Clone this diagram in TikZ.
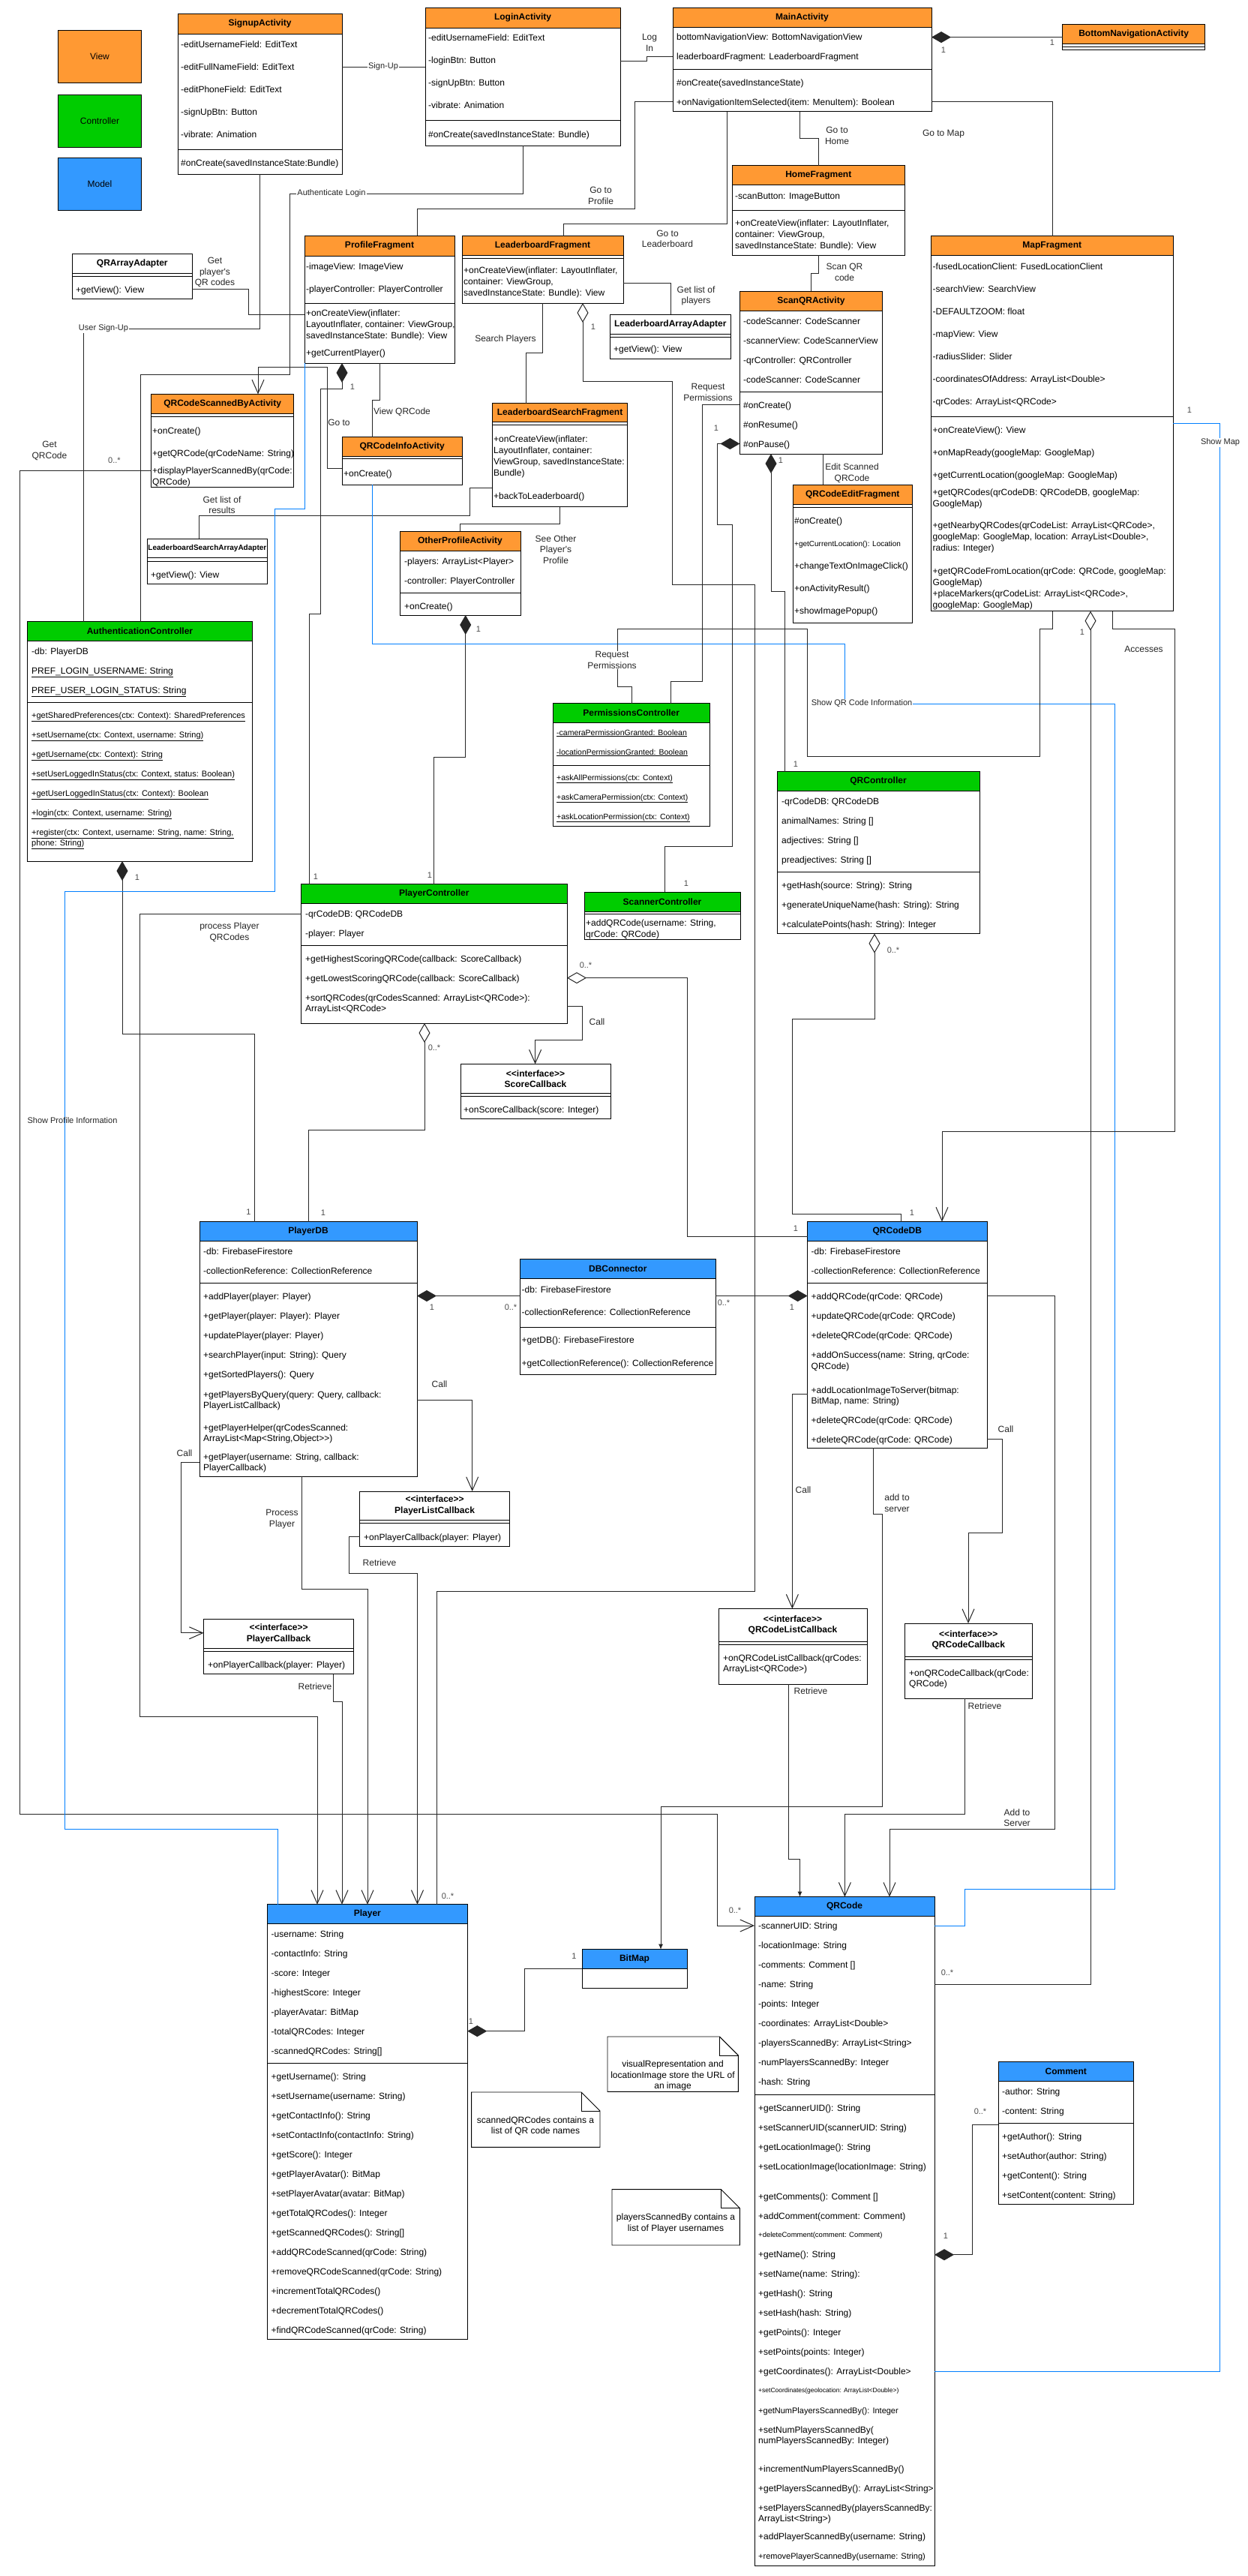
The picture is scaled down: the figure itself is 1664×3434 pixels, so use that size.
\documentclass[tikz,border=0pt]{standalone}
\usepackage{fontspec}
\newfontfamily\diagfont{Liberation Sans}
\usetikzlibrary{arrows.meta,positioning}

\definecolor{viewc}{RGB}{255,153,51}
\definecolor{ctrlc}{RGB}{0,204,0}
\definecolor{modelc}{RGB}{51,153,255}
\definecolor{linkc}{RGB}{0,127,255}

\newcommand{\rsep}{\\[12pt]}
\newcommand{\rlong}{\\[16pt]}
\newcommand{\rwrap}{\\[1pt]}

\begin{document}
\begin{tikzpicture}[x=1pt, y=-1pt, execute at begin picture=\diagfont,
        hd/.style={draw=black, line width=0.9pt, anchor=north west, minimum height=#1, inner sep=0pt, outer sep=0pt, align=center, font=\bfseries\fontsize{12}{14.5}\selectfont},
        hd/.default=26,
        bd/.style={draw=black, line width=0.9pt, fill=white, minimum height=#1, inner sep=0pt, outer sep=0pt},
        dv/.style={draw=black, line width=0.9pt},
        tx/.style={anchor=north west, inner sep=0pt, align=left, font=\fontsize{12}{14}\selectfont},
        legbox/.style={draw=black, line width=1pt, anchor=north west, minimum width=111, minimum height=70, inner sep=0pt, font=\fontsize{12}{14}\selectfont},
        conn/.style={draw=black!85, line width=1pt},
        infolink/.style={draw=linkc, line width=1pt},
        comp/.style={arrows={{Diamond[length=26pt,width=15pt]}-}},
        aggr/.style={arrows={{Diamond[length=26pt,width=15pt,fill=white]}-}},
        opentip/.style={arrows={-{Straight Barb[length=18pt,width=16pt]}}},
        filltip/.style={arrows={-{Latex[length=7pt,width=6pt]}}},
        lbl/.style={font=\fontsize{12}{14.5}\selectfont, align=center, inner sep=1pt, text=black!85},
        lbs/.style={lbl, font=\fontsize{11}{13}\selectfont},
        mult/.style={font=\fontsize{11}{13}\selectfont, inner sep=0pt, text=black!70},
        noteln/.style={draw=black, line width=0.9pt},
        notetx/.style={align=center, inner sep=0pt, font=\fontsize{12}{14.4}\selectfont}]

    \useasboundingbox (0,0) rectangle (1664,3434);
    \fill[white] (0,0) rectangle (1664,3434);

    % legend
    \node[legbox, fill=viewc] (leg-view) at (77,40) {View};
    \node[legbox, fill=ctrlc] (leg-ctrl) at (77,126) {Controller};
    \node[legbox, fill=modelc] (leg-model) at (77,210) {Model};

    % views
    \node[hd=27, fill=viewc, minimum width=219] (signup) at (237,18) {SignupActivity};
    \node[bd=187, minimum width=219, below=0pt of signup] (signup-b) {};
    \draw[dv] (signup-b.west |- 0,199) -- (signup-b.east |- 0,199);
    \node[tx] (signup-at) at (241,53) {\strut -editUsernameField: EditText\rlong -editFullNameField: EditText\rlong -editPhoneField: EditText\rlong -signUpBtn: Button\rlong -vibrate: Animation};
    \node[tx] (signup-mt) at (241,211) {\strut\#onCreate(savedInstanceState:Bundle)};

    \node[hd=27, fill=viewc, minimum width=260] (login) at (567,10) {LoginActivity};
    \node[bd=157, minimum width=260, below=0pt of login] (login-b) {};
    \draw[dv] (login-b.west |- 0,160) -- (login-b.east |- 0,160);
    \node[tx] (login-at) at (571,44.5) {\strut -editUsernameField: EditText\rlong -loginBtn: Button\rlong -signUpBtn: Button\rlong -vibrate: Animation};
    \node[tx] (login-mt) at (571,173.5) {\strut\#onCreate(savedInstanceState: Bundle)};

    \node[hd=26.5, fill=viewc, minimum width=345] (main) at (897,10) {MainActivity};
    \node[bd=112, minimum width=345, below=0pt of main] (main-b) {};
    \draw[dv] (main-b.west |- 0,92.4) -- (main-b.east |- 0,92.4);
    \node[tx] (main-at) at (902,44) {\strut bottomNavigationView: BottomNavigationView\rsep leaderboardFragment: LeaderboardFragment};
    \node[tx] (main-mt) at (902,104) {\strut\#onCreate(savedInstanceState)\rsep +onNavigationItemSelected(item: MenuItem): Boolean};

    \node[hd, fill=viewc, minimum width=190] (bnav) at (1416.6,32.6) {BottomNavigationActivity};
    \node[bd=7.4, minimum width=190, below=0pt of bnav] (bnav-b) {};
    \draw[dv] (bnav-b.west |- 0,62.3) -- (bnav-b.east |- 0,62.3);

    \node[hd, fill=viewc, minimum width=230] (home) at (976.3,220.5) {HomeFragment};
    \node[bd=93.5, minimum width=230, below=0pt of home] (home-b) {};
    \draw[dv] (home-b.west |- 0,280) -- (home-b.east |- 0,280);
    \node[tx] (home-at) at (980,255) {\strut -scanButton: ImageButton};
    \node[tx] (home-mt) at (980,291.5) {\strut +onCreateView(inflater: LayoutInflater,\rwrap container: ViewGroup,\rwrap savedInstanceState: Bundle): View};

    \node[hd=26.3, fill=viewc, minimum width=190] (scan) at (986.4,388.4) {ScanQRActivity};
    \node[bd=190.3, minimum width=190, below=0pt of scan] (scan-b) {};
    \draw[dv] (scan-b.west |- 0,522.3) -- (scan-b.east |- 0,522.3);
    \node[tx] (scan-at) at (991,422.2) {\strut -codeScanner: CodeScanner\rsep -scannerView: CodeScannerView\rsep -qrController: QRController\rsep -codeScanner: CodeScanner};
    \node[tx] (scan-mt) at (991,534.2) {\strut\#onCreate()\rsep\#onResume()\rsep\#onPause()};

    \node[hd=26.4, fill=viewc, minimum width=159.6] (edit) at (1057,646.4) {QRCodeEditFragment};
    \node[bd=157.6, minimum width=159.6, below=0pt of edit] (edit-b) {};
    \draw[dv] (edit-b.west |- 0,676.8) -- (edit-b.east |- 0,676.8);
    \node[tx] (edit-mt) at (1059,688.5) {\strut\#onCreate()\rlong{\fontsize{10}{14}\selectfont +getCurrentLocation(): Location}\rlong +changeTextOnImageClick()\rlong +onActivityResult()\rlong +showImagePopup()};

    \node[hd, fill=viewc, minimum width=322.5] (map) at (1241.5,314.7) {MapFragment};
    \node[bd=474, minimum width=322.5, below=0pt of map] (map-b) {};
    \draw[dv] (map-b.west |- 0,555) -- (map-b.east |- 0,555);
    \node[tx] (map-at) at (1243.5,349.5) {\strut -fusedLocationClient: FusedLocationClient\rlong -searchView: SearchView\rlong -DEFAULTZOOM: float\rlong -mapView: View\rlong -radiusSlider: Slider\rlong -coordinatesOfAddress: ArrayList<Double>\rlong -qrCodes: ArrayList<QRCode>};
    \node[tx] (map-mt) at (1243.5,567.3) {\strut +onCreateView(): View\rlong +onMapReady(googleMap: GoogleMap)\rlong +getCurrentLocation(googleMap: GoogleMap)\\[9pt] +getQRCodes(qrCodeDB: QRCodeDB, googleMap:\rwrap GoogleMap)\\[15pt] +getNearbyQRCodes(qrCodeList: ArrayList<QRCode>,\rwrap googleMap: GoogleMap, location: ArrayList<Double>,\rwrap radius: Integer)\\[17pt] +getQRCodeFromLocation(qrCode: QRCode, googleMap:\rwrap GoogleMap)\rwrap +placeMarkers(qrCodeList: ArrayList<QRCode>,\rwrap googleMap: GoogleMap)};

    \node[hd=27, fill=viewc, minimum width=200] (profile) at (406,314) {ProfileFragment};
    \node[bd=143, minimum width=200, below=0pt of profile] (profile-b) {};
    \draw[dv] (profile-b.west |- 0,404) -- (profile-b.east |- 0,404);
    \node[tx] (profile-at) at (408,349.5) {\strut -imageView: ImageView\rlong -playerController: PlayerController};
    \node[tx] (profile-mt) at (408,411) {\strut +onCreateView(inflater:\rwrap LayoutInflater, container: ViewGroup,\rwrap savedInstanceState: Bundle): View\\[9.5pt] +getCurrentPlayer()};

    \node[hd, fill=viewc, minimum width=215] (lb) at (616,314.5) {LeaderboardFragment};
    \node[bd=63.5, minimum width=215, below=0pt of lb] (lb-b) {};
    \draw[dv] (lb-b.west |- 0,344.5) -- (lb-b.east |- 0,344.5);
    \node[tx] (lb-mt) at (618,354.5) {\strut +onCreateView(inflater: LayoutInflater,\rwrap container: ViewGroup,\rwrap savedInstanceState: Bundle): View};

    \node[hd, fill=white, minimum width=160.4] (lbadapt) at (813.6,419) {LeaderboardArrayAdapter};
    \node[bd=33, minimum width=160.4, below=0pt of lbadapt] (lbadapt-b) {};
    \draw[dv] (lbadapt-b.west |- 0,449) -- (lbadapt-b.east |- 0,449);
    \node[tx] (lbadapt-mt) at (818,459.5) {\strut +getView(): View};

    \node[hd=26.3, fill=white, minimum width=159.4] (qrarr) at (96.6,338.4) {QRArrayAdapter};
    \node[bd=33.3, minimum width=159.4, below=0pt of qrarr] (qrarr-b) {};
    \draw[dv] (qrarr-b.west |- 0,368.8) -- (qrarr-b.east |- 0,368.8);
    \node[tx] (qrarr-mt) at (101,380.2) {\strut +getView(): View};

    \node[hd=25.6, fill=viewc, minimum width=190] (scanned) at (201.6,525.4) {QRCodeScannedByActivity};
    \node[bd=98.6, minimum width=190, below=0pt of scanned] (scanned-b) {};
    \draw[dv] (scanned-b.west |- 0,555) -- (scanned-b.east |- 0,555);
    \node[tx] (scanned-mt) at (203,568.2) {\strut +onCreate()\rlong +getQRCode(qrCodeName: String)\\[9.5pt] +displayPlayerScannedBy(qrCode:\rwrap QRCode)};

    \node[hd=25.4, fill=viewc, minimum width=160.4] (info) at (456,582.6) {QRCodeInfoActivity};
    \node[bd=38, minimum width=160.4, below=0pt of info] (info-b) {};
    \draw[dv] (info-b.west |- 0,611.6) -- (info-b.east |- 0,611.6);
    \node[tx] (info-mt) at (458,625.3) {\strut +onCreate()};

    \node[hd=24.8, fill=viewc, minimum width=180.4] (lbs) at (656.4,537.6) {LeaderboardSearchFragment};
    \node[bd=113.4, minimum width=180.4, below=0pt of lbs] (lbs-b) {};
    \draw[dv] (lbs-b.west |- 0,566.4) -- (lbs-b.east |- 0,566.4);
    \node[tx] (lbs-mt) at (658,579.5) {\strut +onCreateView(inflater:\rwrap LayoutInflater, container:\rwrap ViewGroup, savedInstanceState:\rwrap Bundle)\\[16.5pt] +backToLeaderboard()};

    \node[hd=25.5, fill=white, minimum width=160.2, font=\bfseries\fontsize{10}{12}\selectfont] (lbsadapt) at (196.3,718.3) {LeaderboardSearchArrayAdapter};
    \node[bd=34.8, minimum width=160.2, below=0pt of lbsadapt] (lbsadapt-b) {};
    \draw[dv] (lbsadapt-b.west |- 0,748) -- (lbsadapt-b.east |- 0,748);
    \node[tx] (lbsadapt-mt) at (201,760.1) {\strut +getView(): View};

    \node[hd=26.4, fill=viewc, minimum width=161] (other) at (533,708) {OtherProfileActivity};
    \node[bd=85.6, minimum width=161, below=0pt of other] (other-b) {};
    \draw[dv] (other-b.west |- 0,790.6) -- (other-b.east |- 0,790.6);
    \node[tx] (other-at) at (539,742.3) {\strut -players: ArrayList<Player>\rsep -controller: PlayerController};
    \node[tx] (other-mt) at (539,802.1) {\strut +onCreate()};

    % controllers
    \node[hd=25.9, fill=ctrlc, minimum width=299.7] (auth) at (36.6,828.6) {AuthenticationController};
    \node[bd=293.5, minimum width=299.7, below=0pt of auth] (auth-b) {};
    \draw[dv] (auth-b.west |- 0,936.6) -- (auth-b.east |- 0,936.6);
    \node[tx] (auth-at) at (42,862.4) {\strut -db: PlayerDB\rsep\underline{PREF\_LOGIN\_USERNAME: String}\rsep\underline{PREF\_USER\_LOGIN\_STATUS: String}};
    \node[tx, font=\fontsize{11}{14}\selectfont] (auth-mt) at (42,947.2) {\strut\underline{+getSharedPreferences(ctx: Context): SharedPreferences}\rsep\underline{+setUsername(ctx: Context, username: String)}\rsep\underline{+getUsername(ctx: Context): String}\rsep\underline{+setUserLoggedInStatus(ctx: Context, status: Boolean)}\rsep\underline{+getUserLoggedInStatus(ctx: Context): Boolean}\rsep\underline{+login(ctx: Context, username: String)}\rsep\underline{+register(ctx: Context, username: String, name: String,}\\\underline{phone: String)}};

    \node[hd, fill=ctrlc, minimum width=209.4] (perm) at (737,937.6) {PermissionsController};
    \node[bd=137.4, minimum width=209.4, below=0pt of perm] (perm-b) {};
    \draw[dv] (perm-b.west |- 0,1020) -- (perm-b.east |- 0,1020);
    \node[tx, font=\fontsize{10.5}{14}\selectfont] (perm-at) at (742,970) {\strut\underline{-cameraPermissionGranted: Boolean}\rsep\underline{-locationPermissionGranted: Boolean}};
    \node[tx, font=\fontsize{10.5}{14}\selectfont] (perm-mt) at (742,1030) {\strut\underline{+askAllPermissions(ctx: Context)}\rsep\underline{+askCameraPermission(ctx: Context)}\rsep\underline{+askLocationPermission(ctx: Context)}};

    \node[hd, fill=ctrlc, minimum width=208] (scanner) at (779,1189) {ScannerController};
    \node[bd=37, minimum width=208, below=0pt of scanner] (scanner-b) {};
    \draw[dv] (scanner-b.west |- 0,1218.5) -- (scanner-b.east |- 0,1218.5);
    \node[tx] (scanner-mt) at (781,1224.5) {\strut +addQRCode(username: String,\rwrap qrCode: QRCode)};

    \node[hd=25.9, fill=ctrlc, minimum width=270] (qrctrl) at (1036,1028.6) {QRController};
    \node[bd=190.1, minimum width=270, below=0pt of qrctrl] (qrctrl-b) {};
    \draw[dv] (qrctrl-b.west |- 0,1162.5) -- (qrctrl-b.east |- 0,1162.5);
    \node[tx] (qrctrl-at) at (1042,1062.5) {\strut -qrCodeDB: QRCodeDB\rsep animalNames: String []\rsep adjectives: String []\rsep preadjectives: String []};
    \node[tx] (qrctrl-mt) at (1042,1174) {\strut +getHash(source: String): String\rsep +generateUniqueName(hash: String): String\rsep +calculatePoints(hash: String): Integer};

    \node[hd=25.9, fill=ctrlc, minimum width=354.4] (pctrl) at (401.6,1178.6) {PlayerController};
    \node[bd=159.5, minimum width=354.4, below=0pt of pctrl] (pctrl-b) {};
    \draw[dv] (pctrl-b.west |- 0,1260) -- (pctrl-b.east |- 0,1260);
    \node[tx] (pctrl-at) at (407,1212.5) {\strut -qrCodeDB: QRCodeDB\rsep -player: Player};
    \node[tx] (pctrl-mt) at (407,1272.2) {\strut +getHighestScoringQRCode(callback: ScoreCallback)\rsep +getLowestScoringQRCode(callback: ScoreCallback)\rsep +sortQRCodes(qrCodesScanned: ArrayList<QRCode>):\\ArrayList<QRCode>};

    \node[hd=39, fill=white, minimum width=200] (score) at (614,1418.5) {<\kern0pt<interface>\kern0pt>\\ScoreCallback};
    \node[bd=34, minimum width=200, below=0pt of score] (score-b) {};
    \draw[dv] (score-b.west |- 0,1461.5) -- (score-b.east |- 0,1461.5);
    \node[tx] (score-mt) at (618,1473.1) {\strut +onScoreCallback(score: Integer)};

    % models
    \node[hd, fill=modelc, minimum width=290] (pdb) at (266,1628.5) {PlayerDB};
    \node[bd=313.5, minimum width=290, below=0pt of pdb] (pdb-b) {};
    \draw[dv] (pdb-b.west |- 0,1710) -- (pdb-b.east |- 0,1710);
    \node[tx] (pdb-at) at (271,1662.5) {\strut -db: FirebaseFirestore\rsep -collectionReference: CollectionReference};
    \node[tx] (pdb-mt) at (271,1722.2) {\strut +addPlayer(player: Player)\rsep +getPlayer(player: Player): Player\rsep +updatePlayer(player: Player)\rsep +searchPlayer(input: String): Query\rsep +getSortedPlayers(): Query\\[13pt] +getPlayersByQuery(query: Query, callback:\\PlayerListCallback)\\[16pt] +getPlayerHelper(qrCodesScanned:\\ArrayList<Map<String,Object>\kern0pt>)\\[11.5pt] +getPlayer(username: String, callback:\\PlayerCallback)};

    \node[hd, fill=modelc, minimum width=260.4] (dbc) at (693.6,1678.5) {DBConnector};
    \node[bd=127.5, minimum width=260.4, below=0pt of dbc] (dbc-b) {};
    \draw[dv] (dbc-b.west |- 0,1769) -- (dbc-b.east |- 0,1769);
    \node[tx] (dbc-at) at (695.5,1713) {\strut -db: FirebaseFirestore\rlong -collectionReference: CollectionReference};
    \node[tx] (dbc-mt) at (695.5,1780.5) {\strut +getDB(): FirebaseFirestore\\[16.7pt] +getCollectionReference(): CollectionReference};

    \node[hd, fill=modelc, minimum width=239.4] (qdb) at (1076.6,1628.5) {QRCodeDB};
    \node[bd=275.5, minimum width=239.4, below=0pt of qdb] (qdb-b) {};
    \draw[dv] (qdb-b.west |- 0,1710) -- (qdb-b.east |- 0,1710);
    \node[tx] (qdb-at) at (1081.5,1662.5) {\strut -db: FirebaseFirestore\rsep -collectionReference: CollectionReference};
    \node[tx] (qdb-mt) at (1081.5,1722.2) {\strut +addQRCode(qrCode: QRCode)\rsep +updateQRCode(qrCode: QRCode)\rsep +deleteQRCode(qrCode: QRCode)\rsep +addOnSuccess(name: String, qrCode:\rwrap QRCode)\\[18pt] +addLocationImageToServer(bitmap:\\BitMap, name: String)\\[12pt] +deleteQRCode(qrCode: QRCode)\\[12.5pt] +deleteQRCode(qrCode: QRCode)};

    \node[hd=38, fill=white, minimum width=200] (plc) at (479.6,1988) {<\kern0pt<interface>\kern0pt>\\PlayerListCallback};
    \node[bd=35.6, minimum width=200, below=0pt of plc] (plc-b) {};
    \draw[dv] (plc-b.west |- 0,2030) -- (plc-b.east |- 0,2030);
    \node[tx] (plc-mt) at (485,2043.1) {\strut +onPlayerCallback(player: Player)};

    \node[hd=38.5, fill=white, minimum width=200] (pc) at (271.6,2158.5) {<\kern0pt<interface>\kern0pt>\\PlayerCallback};
    \node[bd=34.7, minimum width=200, below=0pt of pc] (pc-b) {};
    \draw[dv] (pc-b.west |- 0,2201) -- (pc-b.east |- 0,2201);
    \node[tx] (pc-mt) at (277,2213.2) {\strut +onPlayerCallback(player: Player)};

    \node[hd=43.4, fill=white, minimum width=198] (qlc) at (958,2144.6) {<\kern0pt<interface>\kern0pt>\\QRCodeListCallback};
    \node[bd=57, minimum width=198, below=0pt of qlc] (qlc-b) {};
    \draw[dv] (qlc-b.west |- 0,2192.5) -- (qlc-b.east |- 0,2192.5);
    \node[tx] (qlc-mt) at (964,2204.5) {\strut +onQRCodeListCallback(qrCodes:\\ArrayList<QRCode>)};

    \node[hd=44.5, fill=white, minimum width=169.5] (qc) at (1206.5,2164) {<\kern0pt<interface>\kern0pt>\\QRCodeCallback};
    \node[bd=55.5, minimum width=169.5, below=0pt of qc] (qc-b) {};
    \draw[dv] (qc-b.west |- 0,2212.5) -- (qc-b.east |- 0,2212.5);
    \node[tx] (qc-mt) at (1212,2224) {\strut +onQRCodeCallback(qrCode:\\QRCode)};

    \node[hd=25.2, fill=modelc, minimum width=266.8] (player) at (356.5,2538.8) {Player};
    \node[bd=554.6, minimum width=266.8, below=0pt of player] (player-b) {};
    \draw[dv] (player-b.west |- 0,2750.4) -- (player-b.east |- 0,2750.4);
    \node[tx] (player-at) at (361.5,2572.2) {\strut -username: String\rsep -contactInfo: String\rsep -score: Integer\rsep -highestScore: Integer\rsep -playerAvatar: BitMap\rsep -totalQRCodes: Integer\rsep -scannedQRCodes: String[]};
    \node[tx] (player-mt) at (361.5,2762.5) {\strut +getUsername(): String\rsep +setUsername(username: String)\rsep +getContactInfo(): String\rsep +setContactInfo(contactInfo: String)\rsep +getScore(): Integer\rsep +getPlayerAvatar(): BitMap\rsep +setPlayerAvatar(avatar: BitMap)\rsep +getTotalQRCodes(): Integer\rsep +getScannedQRCodes(): String[]\rsep +addQRCodeScanned(qrCode: String)\rsep +removeQRCodeScanned(qrCode: String)\rsep +incrementTotalQRCodes()\rsep +decrementTotalQRCodes()\rsep +findQRCodeScanned(qrCode: String)};

    \node[hd, fill=modelc, minimum width=140] (bitmap) at (776,2598.7) {BitMap};
    \node[bd=25.3, minimum width=140, below=0pt of bitmap] (bitmap-b) {};

    \node[hd, fill=modelc, minimum width=240] (qrcode) at (1006,2528.6) {QRCode};
    \node[bd=865.4, minimum width=240, below=0pt of qrcode] (qrcode-b) {};
    \draw[dv] (qrcode-b.west |- 0,2792) -- (qrcode-b.east |- 0,2792);
    \node[tx] (qrcode-at) at (1011,2561.5) {\strut -scannerUID: String\rsep -locationImage: String\rsep -comments: Comment []\rsep -name: String\rsep -points: Integer\rsep -coordinates: ArrayList<Double>\rsep -playersScannedBy: ArrayList<String>\rsep -numPlayersScannedBy: Integer\rsep -hash: String};
    \node[tx] (qrcode-mt) at (1011,2804.2) {\strut +getScannerUID(): String\rsep +setScannerUID(scannerUID: String)\rsep +getLocationImage(): String\rsep +setLocationImage(locationImage: String)\\[26pt] +getComments(): Comment []\rsep +addComment(comment: Comment)\\[10.5pt]{\fontsize{9.5}{14}\selectfont +deleteComment(comment: Comment)}\\[13pt] +getName(): String\rsep +setName(name: String):\rsep +getHash(): String\rsep +setHash(hash: String)\rsep +getPoints(): Integer\rsep +setPoints(points: Integer)\rsep +getCoordinates(): ArrayList<Double>\\[10pt]{\fontsize{8.5}{14}\selectfont +setCoordinates(geolocation: ArrayList<Double>)}\\[14pt]{\fontsize{11}{14}\selectfont +getNumPlayersScannedBy(): Integer}\rsep +setNumPlayersScannedBy(\\numPlayersScannedBy: Integer)\\[24pt] +incrementNumPlayersScannedBy()\rsep +getPlayersScannedBy(): ArrayList<String>\rsep +setPlayersScannedBy(playersScannedBy:\\ArrayList<String>)\\[9.5pt] +addPlayerScannedBy(username: String)\rsep{\fontsize{11}{14}\selectfont +removePlayerScannedBy(username: String)}};

    \node[hd=25.4, fill=modelc, minimum width=180.6] (comment) at (1331,2748.6) {Comment};
    \node[bd=164.5, minimum width=180.6, below=0pt of comment] (comment-b) {};
    \draw[dv] (comment-b.west |- 0,2830) -- (comment-b.east |- 0,2830);
    \node[tx] (comment-at) at (1336,2782) {\strut -author: String\rsep -content: String};
    \node[tx] (comment-mt) at (1336,2842.3) {\strut +getAuthor(): String\rsep +setAuthor(author: String)\rsep +getContent(): String\rsep +setContent(content: String)};

    % notes
    \node[minimum width=174, minimum height=73, anchor=north west, inner sep=0pt] (note-url) at (810,2715) {};
    \draw[noteln, fill=white] (note-url.north west) -- ([xshift=-25pt]note-url.north east) -- ([yshift=-25pt]note-url.north east) -- (note-url.south east) -- (note-url.south west) -- cycle;
    \draw[noteln] ([xshift=-25pt]note-url.north east) -- ([xshift=-25pt,yshift=-25pt]note-url.north east) -- ([yshift=-25pt]note-url.north east);
    \node[notetx] (note-url-t) at (897,2767) {visualRepresentation and\\locationImage store the URL of\\an image};

    \node[minimum width=171, minimum height=73, anchor=north west, inner sep=0pt] (note-scan) at (628.6,2789) {};
    \draw[noteln, fill=white] (note-scan.north west) -- ([xshift=-25pt]note-scan.north east) -- ([yshift=-25pt]note-scan.north east) -- (note-scan.south east) -- (note-scan.south west) -- cycle;
    \draw[noteln] ([xshift=-25pt]note-scan.north east) -- ([xshift=-25pt,yshift=-25pt]note-scan.north east) -- ([yshift=-25pt]note-scan.north east);
    \node[notetx] (note-scan-t) at (714,2834) {scannedQRCodes contains a\\list of QR code names};

    \node[minimum width=170, minimum height=74, anchor=north west, inner sep=0pt] (note-users) at (816,2918.6) {};
    \draw[noteln, fill=white] (note-users.north west) -- ([xshift=-25pt]note-users.north east) -- ([yshift=-25pt]note-users.north east) -- (note-users.south east) -- (note-users.south west) -- cycle;
    \draw[noteln] ([xshift=-25pt]note-users.north east) -- ([xshift=-25pt,yshift=-25pt]note-users.north east) -- ([yshift=-25pt]note-users.north east);
    \node[notetx] (note-users-t) at (901,2964) {playersScannedBy contains a\\list of Player usernames};

    % connectors
    \draw[conn] (signup-b.east |- 0,89) -- (login-b.west |- 0,89);
    \node[lbs, fill=white] (l-signup) at (511,89) {Sign-Up};

    \draw[conn] (login-b.east |- 0,81) -- (862,81) -- (862,76) -- (main-b.west |- 0,76);
    \node[lbl] (l-login) at (866,57) {Log\\In};

    \draw[conn] (697,0 |- login-b.south) -- (697,258) -- (386,258) -- (386,499) -- (187,499) -- (187,0 |- auth.north);
    \node[lbs, fill=white] (l-auth) at (442,258) {Authenticate Login};

    \draw[conn] (346,0 |- signup-b.south) -- (346,438) -- (111,438) -- (111,0 |- auth.north);
    \node[lbs, fill=white] (l-usersign) at (138,438) {User Sign-Up};

    \draw[conn] (qrarr-b.east |- 0,385) -- (331.6,385) -- (331.6,419.6) -- (profile-b.west |- 0,419.6);
    \node[lbl] (l-getqr) at (286.5,363) {Get\\player's\\QR codes};

    \draw[conn] (main-b.west |- 0,135.3) -- (846,135.3) -- (846,278.6) -- (556,278.6) -- (556,0 |- profile.north);
    \node[lbl] (l-goprof) at (801,261) {Go to\\Profile};

    \draw[conn] (969,0 |- main-b.south) -- (969,298) -- (751,298) -- (751,0 |- lb.north);
    \node[lbl] (l-golb) at (890,318.5) {Go to\\Leaderboard};

    \draw[conn, comp] (main-b.east |- 0,49.6) -- (bnav.west |- 0,49.6);
    \node[mult] (m-main1) at (1258,67) {1};
    \node[mult] (m-bnav1) at (1403,57) {1};

    \draw[conn] (1066.5,0 |- main-b.south) -- (1066.5,184) -- (1091.4,184) -- (1091.4,0 |- home.north);
    \node[lbl] (l-gohome) at (1116,181) {Go to\\Home};

    \draw[conn] (main-b.east |- 0,135.3) -- (1403,135.3) -- (1403,0 |- map.north);
    \node[lbl] (l-gomap) at (1258,178.6) {Go to Map};

    \draw[conn] (1091.4,0 |- home-b.south) -- (1091.4,364) -- (1081.3,364) -- (1081.3,0 |- scan.north);
    \node[lbl] (l-scanqr) at (1126,363) {Scan QR\\code};

    \draw[conn] (1097,0 |- scan-b.south) -- (1097,0 |- edit.north);
    \node[lbl] (l-edit) at (1136,631) {Edit Scanned\\QRCode};

    \draw[conn] (lb-b.east |- 0,377) -- (894,377) -- (894,0 |- lbadapt.north);
    \node[lbl] (l-getplayers) at (928,394.5) {Get list of\\players};

    \draw[conn, aggr] (777,0 |- lb-b.south) -- (777,508) -- (896,508) -- (896,779) -- (1006.5,779) -- (1006.5,2121) -- (582,2121) -- (582,0 |- player.north);
    \node[mult] (m-lb1) at (791,436) {1};
    \node[mult] (m-lbplayer) at (597,2528) {0..*};

    \draw[conn] (723.6,0 |- lb-b.south) -- (723.6,470) -- (701.5,470) -- (701.5,0 |- lbs.north);
    \node[lbl] (l-search) at (674,452) {Search Players};

    \draw[conn] (746.4,0 |- lbs-b.south) -- (746.4,698.5) -- (613.6,698.5) -- (613.6,0 |- other.north);
    \node[lbl] (l-seeother) at (741,732.5) {See Other\\Player's\\Profile};

    \draw[conn] (lbs-b.west |- 0,650.4) -- (626.5,650.4) -- (626.5,687.5) -- (265,687.5) -- (265,0 |- lbsadapt.north);
    \node[lbl] (l-results) at (296,673) {Get list of\\results};

    \draw[conn, comp] (456,0 |- profile-b.south) -- (456,518) -- (427,518) -- (427,818) -- (412,818) -- (412,0 |- pctrl.north);
    \node[mult] (m-prof1) at (470,516) {1};
    \node[mult] (m-pc1a) at (421,1169) {1};

    \draw[conn] (506.6,0 |- profile-b.south) -- (506.6,533.5) -- (496.6,533.5) -- (496.6,0 |- info.north);
    \node[lbl] (l-viewqr) at (536,549.6) {View QRCode};

    \draw[conn, opentip] (info-b.west |- 0,624) -- (436,624) -- (436,489) -- (344,489) -- (344,0 |- scanned.north);
    \node[lbl] (l-goto) at (452,563) {Go to};

    \draw[conn, opentip] (scanned-b.west |- 0,627) -- (26.5,627) -- (26.5,2418) -- (956.7,2418) -- (956.7,2567) -- (qrcode-b.west |- 0,2567);
    \node[lbl] (l-getqrcode) at (66,601) {Get\\QRCode};
    \node[mult] (m-scanned) at (152.5,614) {0..*};
    \node[mult] (m-qrget) at (980,2547) {0..*};

    \draw[conn, comp] (163,0 |- auth-b.south) -- (163,1378.6) -- (339,1378.6) -- (339,0 |- pdb.north);
    \node[mult] (m-auth1) at (183,1170) {1};
    \node[mult] (m-pdb1a) at (331.5,1616) {1};

    \draw[conn, opentip] (pctrl-b.west |- 0,1218.8) -- (186.7,1218.8) -- (186.7,2288) -- (423,2288) -- (423,0 |- player.north);
    \node[lbl] (l-process) at (306,1243) {process Player\\QRCodes};

    \draw[infolink] (406,0 |- profile-b.south) -- (406,678.6) -- (366,678.6) -- (366,1188) -- (86.5,1188) -- (86.5,2438) -- (370,2438) -- (370,0 |- player.north);
    \node[lbs] (l-showprof) at (96.5,1494) {Show Profile Information};

    \draw[conn, comp] (620.7,0 |- other-b.south) -- (620.7,1009) -- (578,1009) -- (578,0 |- pctrl.north);
    \node[mult] (m-other1) at (638,839) {1};
    \node[mult] (m-pc1b) at (573,1167) {1};

    \draw[infolink] (496.6,0 |- info-b.south) -- (496.6,858.5) -- (1126.4,858.5) -- (1126.4,938) -- (1486,938) -- (1486,2518) -- (1286.6,2518) -- (1286.6,2567) -- (qrcode-b.east |- 0,2567);
    \node[lbs, fill=white] (l-showqr) at (1149,938) {Show QR Code Information};

    \draw[conn] (scan-b.west |- 0,539.7) -- (936.5,539.7) -- (936.5,908) -- (894,908) -- (894,0 |- perm.north);
    \node[lbl] (l-reqperm1) at (944,523) {Request\\Permissions};

    \draw[conn, comp] (scan-b.west |- 0,591.5) -- (956.7,591.5) -- (956.7,699) -- (976,699) -- (976,1128.6) -- (886.6,1128.6) -- (886.6,0 |- scanner.north);
    \node[mult] (m-scan1a) at (955,571) {1};
    \node[mult] (m-scanner1) at (915,1178) {1};

    \draw[conn, comp] (1028,0 |- scan-b.south) -- (1028,788) -- (1046,788) -- (1046,0 |- qrctrl.north);
    \node[mult] (m-scan1b) at (1041,614) {1};
    \node[mult] (m-qrctrl1) at (1061,1019) {1};

    \draw[conn] (1403,0 |- map-b.south) -- (1403,838.4) -- (1386.4,838.4) -- (1386.4,1008) -- (1076.5,1008) -- (1076.5,838.5) -- (823.6,838.5) -- (823.6,915) -- (842,915) -- (842,0 |- perm.north);
    \node[lbl, fill=white] (l-reqperm2) at (816,880) {Request\\Permissions};

    \draw[conn, aggr] (1454,0 |- map-b.south) -- (1454,2645.5) -- (qrcode-b.east |- 0,2645.5);
    \node[mult] (m-map1) at (1443,843) {1};
    \node[mult] (m-mapqr) at (1263,2630) {0..*};

    \draw[conn, opentip] (1483,0 |- map-b.south) -- (1483,838) -- (1566,838) -- (1566,1508.5) -- (1256,1508.5) -- (1256,0 |- qdb.north);
    \node[lbl] (l-access) at (1525,865) {Accesses};

    \draw[infolink] (map-b.east |- 0,564) -- (1626,564) -- (1626,3161.5) -- (qrcode-b.east |- 0,3161.5);
    \node[lbs, fill=white] (l-showmap) at (1627,590) {Show Map};
    \node[mult] (m-map1b) at (1586,547) {1};

    \draw[conn, aggr] (1166,0 |- qrctrl-b.south) -- (1166,1358) -- (1056.4,1358) -- (1056.4,1618) -- (1201,1618) -- (1201,0 |- qdb.north);
    \node[mult] (m-qrctrl) at (1191,1267) {0..*};
    \node[mult] (m-qdb1a) at (1216,1617) {1};

    \draw[conn, aggr] (pctrl-b.east |- 0,1303.6) -- (916.4,1303.6) -- (916.4,1648) -- (qdb.west |- 0,1648);
    \node[mult] (m-pcqdb) at (781,1287) {0..*};
    \node[mult] (m-qdb1b) at (1061,1637.5) {1};

    \draw[conn, aggr] (566,0 |- pctrl-b.south) -- (566,1506) -- (411.7,1506) -- (411.7,0 |- pdb.north);
    \node[mult] (m-pcpdb) at (579,1397) {0..*};
    \node[mult] (m-pdb1b) at (431,1617) {1};

    \draw[conn, opentip] (pctrl-b.east |- 0,1341) -- (776,1341) -- (776,1386) -- (713.6,1386) -- (713.6,0 |- score.north);
    \node[lbl] (l-call1) at (796,1362) {Call};

    \draw[conn, comp] (pdb-b.east |- 0,1727.5) -- (dbc-b.west |- 0,1727.5);
    \node[mult] (m-pdb1c) at (576,1743) {1};
    \node[mult] (m-dbc1) at (681,1743) {0..*};

    \draw[conn, comp] (qdb-b.west |- 0,1727.5) -- (dbc-b.east |- 0,1727.5);
    \node[mult] (m-dbc2) at (965,1737) {0..*};
    \node[mult] (m-qdb1c) at (1056,1743) {1};

    \draw[conn, opentip] (pdb-b.east |- 0,1866.5) -- (629.7,1866.5) -- (629.7,0 |- plc.north);
    \node[lbl] (l-call2) at (586,1845) {Call};

    \draw[conn, opentip] (pdb-b.west |- 0,1949) -- (241.4,1949) -- (241.4,2176.8) -- (pc.west |- 0,2176.8);
    \node[lbl] (l-call3) at (246,1937) {Call};

    \draw[conn, opentip] (402.6,0 |- pdb-b.south) -- (402.6,2118) -- (490,2118) -- (490,0 |- player.north);
    \node[lbl] (l-procplayer) at (376,2025) {Process\\Player};

    \draw[conn, opentip] (plc-b.west |- 0,2048.6) -- (465.8,2048.6) -- (465.8,2097.8) -- (556.5,2097.8) -- (556.5,0 |- player.north);
    \node[lbl] (l-retr1) at (506,2083) {Retrieve};

    \draw[conn, opentip] (444,0 |- pc-b.south) -- (444,2268) -- (456,2268) -- (456,0 |- player.north);
    \node[lbl] (l-retr2) at (420,2248) {Retrieve};

    \draw[conn, comp] (player-b.east |- 0,2707.6) -- (699.7,2707.6) -- (699.7,2624.6) -- (bitmap-b.west |- 0,2624.6);
    \node[mult] (m-player1) at (628,2695) {1};
    \node[mult] (m-bitmap1) at (765.5,2607.6) {1};

    \draw[conn, filltip] (1164,0 |- qdb-b.south) -- (1164,2018) -- (1176,2018) -- (1176,2408) -- (881,2408) -- (881,0 |- bitmap.north);
    \node[lbl] (l-addserver) at (1196,2003.5) {add to\\server};

    \draw[conn, opentip] (qdb-b.west |- 0,1858.5) -- (1056.4,1858.5) -- (1056.4,0 |- qlc.north);
    \node[lbl] (l-call4) at (1071,1986) {Call};

    \draw[conn, filltip] (1051.6,0 |- qlc-b.south) -- (1051.6,2478.6) -- (1066.5,2478.6) -- (1066.5,0 |- qrcode.north);
    \node[lbl] (l-retr3) at (1081,2254.5) {Retrieve};

    \draw[conn, opentip] (qdb-b.east |- 0,1918) -- (1336,1918) -- (1336,2043) -- (1291,2043) -- (1291,0 |- qc.north);
    \node[lbl] (l-call5) at (1341,1905) {Call};

    \draw[conn, opentip] (1286.6,0 |- qc-b.south) -- (1286.6,2418) -- (1126.4,2418) -- (1126.4,0 |- qrcode.north);
    \node[lbl] (l-retr4) at (1313,2273.7) {Retrieve};

    \draw[conn, opentip] (qdb-b.east |- 0,1727.5) -- (1406.5,1727.5) -- (1406.5,2438) -- (1186,2438) -- (1186,0 |- qrcode.north);
    \node[lbl] (l-addserver2) at (1356,2423) {Add to\\Server};

    \draw[conn, comp] (qrcode-b.east |- 0,3005.7) -- (1296,3005.7) -- (1296,2832) -- (comment-b.west |- 0,2832);
    \node[mult] (m-qrcode1) at (1261,2981) {1};
    \node[mult] (m-comment) at (1307,2815) {0..*};

\end{tikzpicture}
\end{document}
